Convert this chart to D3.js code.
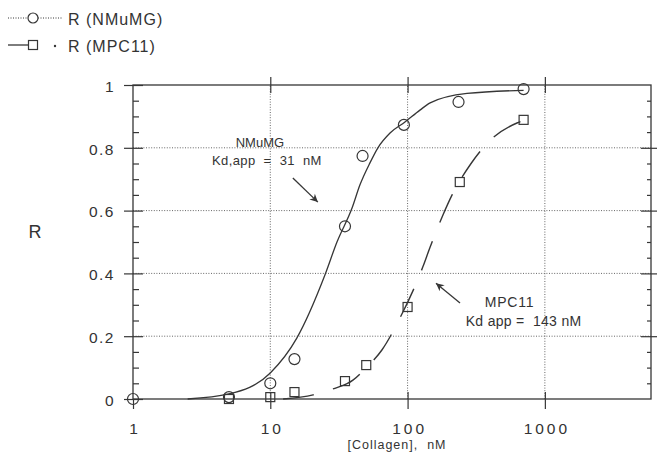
<!DOCTYPE html>
<html>
<head>
<meta charset="utf-8">
<script src="https://cdn.jsdelivr.net/npm/d3@7"></script>
<style>
  body { margin: 0; background: #fff; }
  text { font-family: Arial, "Liberation Sans", Helvetica, sans-serif; fill: #333; }
</style>
</head>
<body>
<script>
// measured points
var concNMuMG = [1, 5, 10, 15, 35, 47, 94, 235, 700];
var rNMuMG    = [0, 0.006, 0.05, 0.127, 0.55, 0.774, 0.873, 0.946, 0.987];
var concMPC11 = [5, 10, 15, 35, 50, 100, 240, 700];
var rMPC11    = [0, 0.006, 0.022, 0.057, 0.108, 0.293, 0.691, 0.889];

// fitted curves
var fitConcNMuMG = [2.5, 5, 10, 15.6, 25, 30.6, 39.4, 45, 53.2, 60.8, 74.5, 95.7, 123, 146, 271, 700];
var fitRNMuMG    = [0, 0.016, 0.083, 0.194, 0.395, 0.5, 0.608, 0.682, 0.752, 0.8, 0.847, 0.882, 0.92, 0.943, 0.973, 0.983];
var fitConcMPC11 = [12.4, 20.5, 28.6, 40, 50, 65, 88, 129, 146, 181, 211, 290, 372, 626, 690];
var fitRMPC11    = [0, 0.013, 0.032, 0.06, 0.1, 0.156, 0.258, 0.42, 0.484, 0.586, 0.65, 0.75, 0.81, 0.879, 0.886];

// axis ticks
var xTicks = [1, 10, 100, 1000];
var xTopTicks = [10, 100, 1000];
var yTicks = [0, 0.2, 0.4, 0.6, 0.8, 1];
var yGrid = [0.2, 0.4, 0.6, 0.8];
var yMinor = [0.05, 0.1, 0.15, 0.25, 0.3, 0.35, 0.45, 0.5, 0.55, 0.65, 0.7, 0.75, 0.85, 0.9, 0.95];

var width = 657,
    height = 461,
    margin = {top: 85, right: 6, bottom: 62, left: 133};
var ink = "#363636";

var svg = d3.select("body").append("svg")
    .attr("width", width)
    .attr("height", height);

var x = d3.scaleLog()
    .domain([1, 5930])
    .range([margin.left, width - margin.right]);

var y = d3.scaleLinear()
    .domain([0, 1])
    .range([height - margin.bottom, margin.top]);

// dotted grid
svg.append("g")
    .selectAll("line")
    .data(yGrid)
    .enter().append("line")
    .attr("x1", x.range()[0]).attr("x2", x.range()[1])
    .attr("y1", function(d) { return y(d); })
    .attr("y2", function(d) { return y(d); })
    .attr("stroke", "#666")
    .attr("stroke-width", 1)
    .attr("stroke-dasharray", "1,1.6");

svg.append("g")
    .selectAll("line")
    .data(xTopTicks)
    .enter().append("line")
    .attr("y1", y.range()[0]).attr("y2", y.range()[1])
    .attr("x1", function(d) { return x(d); })
    .attr("x2", function(d) { return x(d); })
    .attr("stroke", "#666")
    .attr("stroke-width", 1)
    .attr("stroke-dasharray", "1,1.6");

// frame
svg.append("rect")
    .attr("x", x.range()[0])
    .attr("y", y.range()[1])
    .attr("width", x.range()[1] - x.range()[0])
    .attr("height", y.range()[0] - y.range()[1])
    .attr("fill", "none")
    .attr("stroke", ink)
    .attr("stroke-width", 1.3);

function styleAxis(g) {
    g.select(".domain").remove();
    g.selectAll("line").attr("stroke", ink).attr("stroke-width", 1.2);
    g.selectAll("text")
        .style("font-size", "15.5px")
        .style("letter-spacing", "3px")
        .attr("fill", "#333");
}

// left axis: labels + outer part of major ticks
svg.append("g")
    .attr("transform", "translate(" + x.range()[0] + ",0)")
    .call(d3.axisLeft(y).tickValues(yTicks).tickSize(9).tickPadding(9)
        .tickFormat(function(d) { return d; }))
    .call(styleAxis)
    .selectAll("text").attr("dy", "0.4em").style("letter-spacing", "1.5px");

svg.append("g")
    .attr("transform", "translate(" + x.range()[0] + ",0)")
    .call(d3.axisRight(y).tickValues(yTicks).tickSize(10).tickFormat(""))
    .call(styleAxis);

svg.append("g")
    .attr("transform", "translate(" + x.range()[0] + ",0)")
    .call(d3.axisRight(y).tickValues(yMinor).tickSize(6).tickFormat(""))
    .call(styleAxis);

// right axis
svg.append("g")
    .attr("transform", "translate(" + x.range()[1] + ",0)")
    .call(d3.axisLeft(y).tickValues(yGrid).tickSize(10).tickFormat(""))
    .call(styleAxis);

svg.append("g")
    .attr("transform", "translate(" + x.range()[1] + ",0)")
    .call(d3.axisRight(y).tickValues(yGrid).tickSize(6).tickFormat(""))
    .call(styleAxis);

svg.append("g")
    .attr("transform", "translate(" + x.range()[1] + ",0)")
    .call(d3.axisLeft(y).tickValues(yMinor).tickSize(4).tickFormat(""))
    .call(styleAxis);

// bottom axis
svg.append("g")
    .attr("transform", "translate(0," + y.range()[0] + ")")
    .call(d3.axisBottom(x).tickValues(xTicks).tickSize(10).tickPadding(14)
        .tickFormat(function(d) { return d; }))
    .call(styleAxis)
    .selectAll("text").attr("dx", "1.5px");

svg.append("g")
    .attr("transform", "translate(0," + y.range()[0] + ")")
    .call(d3.axisTop(x).tickValues(xTopTicks).tickSize(7).tickFormat(""))
    .call(styleAxis);

// top axis
svg.append("g")
    .attr("transform", "translate(0," + y.range()[1] + ")")
    .call(d3.axisTop(x).tickValues(xTopTicks).tickSize(8).tickFormat(""))
    .call(styleAxis);

svg.append("g")
    .attr("transform", "translate(0," + y.range()[1] + ")")
    .call(d3.axisBottom(x).tickValues(xTopTicks).tickSize(8).tickFormat(""))
    .call(styleAxis);

// axis titles
svg.append("text")
    .attr("x", 35)
    .attr("y", 238)
    .attr("text-anchor", "middle")
    .style("font-size", "18px")
    .text("R");

svg.append("text")
    .attr("x", (x.range()[0] + x.range()[1]) / 2 + 5)
    .attr("y", 449)
    .attr("text-anchor", "middle")
    .attr("xml:space", "preserve")
    .style("font-size", "12.5px")
    .style("letter-spacing", "1px")
    .text("[Collagen],  nM");

// fitted curves
var line = d3.line()
    .x(function(d) { return x(d[0]); })
    .y(function(d) { return y(d[1]); })
    .curve(d3.curveMonotoneX);

svg.append("path")
    .datum(d3.zip(fitConcNMuMG, fitRNMuMG))
    .attr("d", line)
    .attr("fill", "none")
    .attr("stroke", ink)
    .attr("stroke-width", 1.3);

svg.append("path")
    .datum(d3.zip(fitConcMPC11, fitRMPC11))
    .attr("d", line)
    .attr("fill", "none")
    .attr("stroke", ink)
    .attr("stroke-width", 1.4)
    .attr("stroke-dasharray", "31,20");

// markers
svg.append("g")
    .selectAll("circle")
    .data(d3.zip(concNMuMG, rNMuMG))
    .enter().append("circle")
    .attr("cx", function(d) { return x(d[0]); })
    .attr("cy", function(d) { return y(d[1]); })
    .attr("r", 5.5)
    .attr("fill", "none")
    .attr("stroke", ink)
    .attr("stroke-width", 1.2);

svg.append("g")
    .selectAll("rect")
    .data(d3.zip(concMPC11, rMPC11))
    .enter().append("rect")
    .attr("x", function(d) { return x(d[0]) - 4.5; })
    .attr("y", function(d) { return y(d[1]) - 4.5; })
    .attr("width", 9)
    .attr("height", 9)
    .attr("fill", "none")
    .attr("stroke", ink)
    .attr("stroke-width", 1.2);

// annotations
var defs = svg.append("defs");
defs.append("marker")
    .attr("id", "arrow")
    .attr("viewBox", "0 0 10 10")
    .attr("refX", 10).attr("refY", 5)
    .attr("markerWidth", 14).attr("markerHeight", 8)
    .attr("markerUnits", "userSpaceOnUse")
    .attr("orient", "auto")
    .append("path")
    .attr("d", "M0,0 L10,5 L0,10 L3,5 Z")
    .attr("fill", ink);

var labelNMuMG = {x: 8.4, y: 0.803};
var arrowNMuMG = [[14.6, 0.704], [22.2, 0.627]];
var labelMPC11 = {x: 700, y: 0.293};
var arrowMPC11 = [[241, 0.306], [161, 0.369]];

svg.append("text")
    .attr("x", x(labelNMuMG.x))
    .attr("y", y(labelNMuMG.y))
    .attr("text-anchor", "middle")
    .style("font-size", "13px")
    .text("NMuMG");

svg.append("text")
    .attr("x", x(labelNMuMG.x) + 7)
    .attr("y", y(labelNMuMG.y) + 18)
    .attr("text-anchor", "middle")
    .attr("xml:space", "preserve")
    .style("font-size", "13px")
    .style("letter-spacing", "0.4px")
    .text("Kd,app  =  31  nM");

svg.append("text")
    .attr("x", x(labelMPC11.x) - 14)
    .attr("y", y(labelMPC11.y))
    .attr("text-anchor", "middle")
    .style("font-size", "14px")
    .style("letter-spacing", "0.8px")
    .text("MPC11");

svg.append("text")
    .attr("x", x(labelMPC11.x))
    .attr("y", y(labelMPC11.y) + 19)
    .attr("text-anchor", "middle")
    .attr("xml:space", "preserve")
    .style("font-size", "14px")
    .style("letter-spacing", "0.3px")
    .text("Kd app =  143 nM");

[arrowNMuMG, arrowMPC11].forEach(function(a) {
    svg.append("line")
        .attr("x1", x(a[0][0])).attr("y1", y(a[0][1]))
        .attr("x2", x(a[1][0])).attr("y2", y(a[1][1]))
        .attr("stroke", ink)
        .attr("stroke-width", 1.3)
        .attr("marker-end", "url(#arrow)");
});

// legend
var legend = svg.append("g");

legend.append("line")
    .attr("x1", 8).attr("x2", 62)
    .attr("y1", 18).attr("y2", 18)
    .attr("stroke", ink)
    .attr("stroke-dasharray", "1,1.5");
legend.append("circle")
    .attr("cx", 33).attr("cy", 18).attr("r", 5)
    .attr("fill", "#fff")
    .attr("stroke", ink)
    .attr("stroke-width", 1.2);
legend.append("text")
    .attr("x", 68).attr("y", 25)
    .style("font-size", "16px")
    .style("letter-spacing", "1px")
    .text("R (NMuMG)");

legend.append("line")
    .attr("x1", 8).attr("x2", 29)
    .attr("y1", 45).attr("y2", 45)
    .attr("stroke", ink)
    .attr("stroke-width", 1.3);
legend.append("rect")
    .attr("x", 28.5).attr("y", 40.5)
    .attr("width", 9).attr("height", 9)
    .attr("fill", "#fff")
    .attr("stroke", ink)
    .attr("stroke-width", 1.2);
legend.append("circle")
    .attr("cx", 55).attr("cy", 46).attr("r", 1.2)
    .attr("fill", ink);
legend.append("text")
    .attr("x", 68).attr("y", 52)
    .style("font-size", "16px")
    .style("letter-spacing", "1px")
    .text("R (MPC11)");
</script>
</body>
</html>
